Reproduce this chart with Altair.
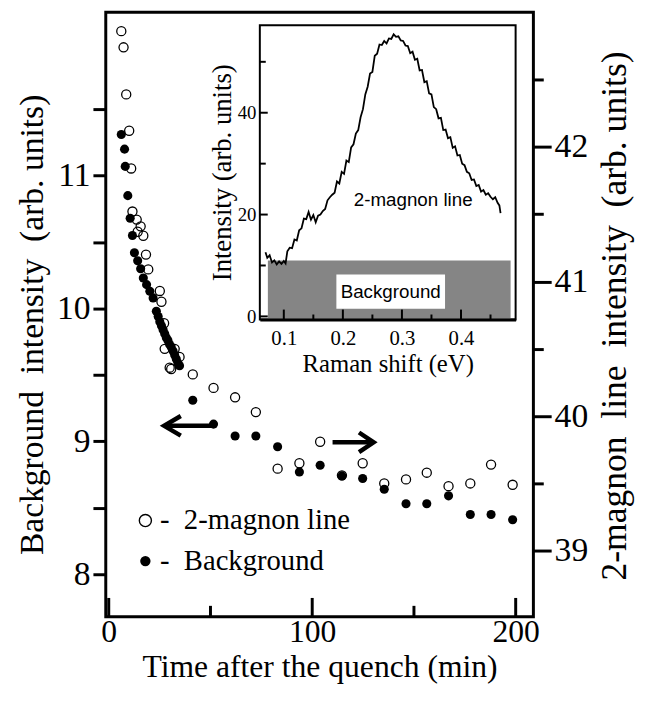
import altair as alt
import pandas as pd

# ---------------- data ----------------
# Background intensity (filled circles, left axis)
bg_t = [6.17, 7.77, 8.11, 9.37, 10.53, 11.65, 12.62, 14.22, 15.68, 16.99, 18.6, 20.2, 21.8,
        23.4, 24.3, 25.1, 25.9, 26.7, 27.5, 28.3, 29.1, 29.9, 30.7, 31.6, 32.4, 33.2, 34.0, 34.8,
        41.3, 51.5, 62.1, 72.3, 83.0, 93.7, 103.9, 114.6, 124.8, 135.4, 146.1, 156.3, 167.0,
        177.7, 187.9, 198.5]
bg_v = [11.31, 11.20, 11.07, 10.85, 10.68, 10.55, 10.42, 10.36, 10.30, 10.23, 10.18, 10.13, 10.08,
        9.98, 9.94, 9.90, 9.87, 9.84, 9.81, 9.78, 9.76, 9.73, 9.71, 9.68, 9.65, 9.62, 9.59, 9.57,
        9.31, 9.13, 9.04, 9.04, 8.96, 8.77, 8.82, 8.74, 8.72, 8.64, 8.53, 8.53, 8.59,
        8.45, 8.45, 8.41]

# 2-magnon line intensity (open circles, right axis)
mag_t = [6.17, 7.28, 8.59, 10.05, 11.02, 11.65, 13.74, 14.22, 15.68, 16.99, 18.3, 19.42, 25.1,
         25.9, 27.2, 27.5, 29.95, 30.7, 32.4, 34.8, 41.3, 51.5, 62.1, 72.3, 83.0, 93.7, 103.9,
         114.6, 124.8, 135.4, 146.1, 156.3, 167.0, 177.7, 187.9, 198.5]
mag_v = [42.86, 42.74, 42.39, 42.12, 41.84, 41.52, 41.46, 41.37, 41.41, 41.34, 41.20, 41.09, 40.93,
         40.85, 40.69, 40.50, 40.36, 40.35, 40.50, 40.44, 40.31, 40.21, 40.14, 40.03, 39.61, 39.65,
         39.81, 39.56, 39.65, 39.50, 39.53, 39.58, 39.48, 39.50, 39.64, 39.49]

# inset spectrum
ram_x = [0.069, 0.072, 0.076, 0.080, 0.084, 0.088, 0.092, 0.096, 0.100, 0.103, 0.106, 0.110,
         0.114, 0.118, 0.122, 0.126, 0.130, 0.134, 0.138, 0.142, 0.146, 0.150, 0.154, 0.158,
         0.162, 0.166, 0.170, 0.174, 0.178, 0.182, 0.186, 0.190, 0.194, 0.198, 0.202, 0.206,
         0.210, 0.214, 0.218, 0.222, 0.226, 0.230, 0.234, 0.238, 0.242, 0.246, 0.250, 0.254,
         0.258, 0.262, 0.266, 0.270, 0.274, 0.278, 0.282, 0.286, 0.290, 0.294, 0.298, 0.302,
         0.306, 0.310, 0.314, 0.318, 0.322, 0.326, 0.330, 0.334, 0.338, 0.342, 0.346, 0.350,
         0.354, 0.358, 0.362, 0.366, 0.370, 0.374, 0.378, 0.382, 0.386, 0.390, 0.394, 0.398,
         0.402, 0.406, 0.410, 0.414, 0.418, 0.422, 0.426, 0.430, 0.434, 0.438, 0.442, 0.446,
         0.450, 0.454, 0.458, 0.462, 0.465, 0.467]
ram_y = [12.6, 11.5, 12.0, 10.6, 11.0, 10.2, 10.8, 10.3, 10.9, 10.4, 12.8, 13.5,
         13.4, 15.1, 14.9, 16.9, 17.3, 19.2, 19.1, 20.5, 19.0, 19.9, 18.5, 19.8,
         20.0, 20.7, 21.1, 22.8, 23.4, 23.9, 24.3, 26.5, 26.1, 28.4, 28.0, 30.6,
         30.3, 33.2, 33.8, 35.9, 36.6, 39.1, 40.7, 43.6, 45.1, 47.7, 48.0, 51.2,
         51.6, 53.4, 53.3, 54.1, 53.6, 54.6, 54.5, 55.4, 54.9, 55.0, 54.2, 54.1,
         53.2, 53.1, 51.7, 52.0, 50.4, 50.6, 48.3, 48.4, 46.0, 46.2, 43.8, 43.6,
         41.1, 40.7, 38.9, 39.0, 36.6, 36.7, 35.0, 35.2, 33.1, 33.4, 31.6, 31.7,
         30.0, 29.7, 28.4, 28.1, 26.8, 26.9, 25.6, 25.8, 24.5, 24.8, 23.9, 24.2,
         23.5, 23.0, 23.4, 22.3, 21.8, 20.3]

# background band of the inset spectrum
band_x = [0.073, 0.484]
band_y = [-0.6, 11.0]
band_label_box_x = [0.189, 0.373]
band_label_box_y = [1.5, 8.25]

# annotations (data units)
arrow_id = ["L", "L", "L", "R", "R", "R"]
arrow_hx = [35.4, 27.2, 35.4, 123.0, 130.2, 123.0]
arrow_hy = [9.191, 9.117, 9.043, 9.067, 8.993, 8.919]
shaft_x1 = [27.8, 110.0]
shaft_x2 = [51.0, 129.5]
shaft_y = [9.117, 8.993]

NB = "\u00a0"
leg_x = [18.0, 18.0]
leg_y = [8.404, 8.099]
leg_tx = [25.2, 25.2]
leg_text = ["-" + NB + " 2-magnon line", "-" + NB + " Background"]

# axis tick values
x_major = [0, 100, 200]
x_minor = [50, 150]
left_ticks = [8, 8.5, 9, 9.5, 10, 10.5, 11, 11.5]
right_ticks = [39, 39.5, 40, 40.5, 41, 41.5, 42, 42.5]
in_x_major = [0.1, 0.2, 0.3, 0.4]
in_x_minor = [0.15, 0.25, 0.35, 0.45]
in_y_major = [0, 20, 40]
in_y_minor = [10, 30, 50]

# ---------------- layout ----------------
W, H = 433, 612
SERIF = "Liberation Serif"
SANS = "Liberation Sans"
IN_L, IN_R, IN_T, IN_B = 156, 415, 13, 311

X_MAIN = alt.Scale(domain=[-1.46, 208.7], nice=False, zero=False)
Y_LEFT = alt.Scale(domain=[7.68, 12.23], nice=False, zero=False)
Y_RIGHT = alt.Scale(domain=[38.51, 43.0], nice=False, zero=False)
X_IN = alt.Scale(domain=[0.0594, 0.4925], range=[IN_L, IN_R], nice=False, zero=False)
Y_IN = alt.Scale(domain=[-0.6, 57.2], range=[IN_B, IN_T], nice=False, zero=False)

df_bg = pd.DataFrame({"t": bg_t, "v": bg_v})
df_mag = pd.DataFrame({"t": mag_t, "v": mag_v})
df_ram = pd.DataFrame({"x": ram_x, "y": ram_y})

filled = alt.Chart(df_bg).mark_point(filled=True, shape="circle", size=85, color="black", opacity=1).encode(
    x=alt.X("t:Q", scale=X_MAIN, axis=alt.Axis(
        values=x_major, format="d", ticks=False, domain=False, grid=False,
        labelFont=SERIF, labelFontSize=32, labelColor="black", labelPadding=0,
        title="Time after the quench (min)", titleFont=SERIF, titleFontSize=32,
        titleFontWeight="normal", titleColor="black", titleY=61, titleBaseline="alphabetic")),
    y=alt.Y("v:Q", scale=Y_LEFT, axis=alt.Axis(
        orient="left", values=left_ticks, domain=False, grid=False,
        labelExpr="datum.value % 1 == 0 ? format(datum.value, 'd') : ''",
        tickSize=13, tickWidth=3, tickColor="black",
        labelFont=SERIF, labelFontSize=34, labelColor="black", labelPadding=3,
        title="Background" + NB + " intensity" + NB + " (arb. units)", titleFont=SERIF, titleFontSize=34,
        titleFontWeight="normal", titleColor="black", titleAngle=270, titleX=-74, titleY=316,
        titleBaseline="middle", titleAlign="center")),
)

opened = alt.Chart(df_mag).mark_point(filled=False, shape="circle", size=85, color="black",
                                      strokeWidth=1.3, opacity=1).encode(
    x=alt.X("t:Q", scale=X_MAIN, axis=None),
    y=alt.Y("v:Q", scale=Y_RIGHT, axis=alt.Axis(
        orient="right", values=right_ticks, domain=False, grid=False,
        labelExpr="datum.value % 1 == 0 ? format(datum.value, 'd') : ''",
        tickSize={"condition": {"test": "datum.value % 1 == 0", "value": 18}, "value": 10},
        tickWidth=3, tickColor="black",
        labelFont=SERIF, labelFontSize=34, labelColor="black", labelPadding=3,
        title="2-magnon" + NB + " line" + NB + " intensity" + NB + " (arb. units)", titleFont=SERIF,
        titleFontSize=36, titleFontWeight="normal", titleColor="black", titleAngle=270, titleX=82,
        titleY=307, titleBaseline="middle", titleAlign="center")),
)

# inward ticks of the main time axis
xt_major = alt.Chart(pd.DataFrame({"t": x_major})).mark_rule(color="black", strokeWidth=3).encode(
    x=alt.X("t:Q", scale=X_MAIN, axis=None), y=alt.value(H), y2=alt.value(H - 19))
xt_minor = alt.Chart(pd.DataFrame({"t": x_minor})).mark_rule(color="black", strokeWidth=3).encode(
    x=alt.X("t:Q", scale=X_MAIN, axis=None), y=alt.value(H), y2=alt.value(H - 11))

# arrows
shafts = alt.Chart(pd.DataFrame({"x1": shaft_x1, "x2": shaft_x2, "y": shaft_y})).mark_rule(
    color="black", strokeWidth=4.5).encode(
    x=alt.X("x1:Q", scale=X_MAIN, axis=None), x2="x2:Q",
    y=alt.Y("y:Q", scale=Y_LEFT, axis=None))
heads = alt.Chart(pd.DataFrame({"id": arrow_id, "k": [0, 1, 2] * 2, "x": arrow_hx, "y": arrow_hy})).mark_line(
    color="black", strokeWidth=4.5, strokeJoin="miter").encode(
    x=alt.X("x:Q", scale=X_MAIN, axis=None), y=alt.Y("y:Q", scale=Y_LEFT, axis=None),
    detail="id:N", order="k:Q")

# legend
df_leg = pd.DataFrame({"x": leg_x, "y": leg_y, "tx": leg_tx, "label": leg_text})
leg_open = alt.Chart(df_leg.iloc[[0]]).mark_point(filled=False, shape="circle", size=150, color="black",
                                                  strokeWidth=1.4, opacity=1).encode(
    x=alt.X("x:Q", scale=X_MAIN, axis=None), y=alt.Y("y:Q", scale=Y_LEFT, axis=None))
leg_fill = alt.Chart(df_leg.iloc[[1]]).mark_point(filled=True, shape="circle", size=110, color="black",
                                                  opacity=1).encode(
    x=alt.X("x:Q", scale=X_MAIN, axis=None), y=alt.Y("y:Q", scale=Y_LEFT, axis=None))
leg_txt = alt.Chart(df_leg).mark_text(align="left", baseline="middle", font=SERIF, fontSize=29,
                                      color="black").encode(
    x=alt.X("tx:Q", scale=X_MAIN, axis=None), y=alt.Y("y:Q", scale=Y_LEFT, axis=None), text="label:N")

# ---------------- inset ----------------
frame = alt.Chart(pd.DataFrame({"x1": [0.0594], "x2": [0.4925], "y1": [-0.6], "y2": [57.2]})).mark_rect(
    fill="white", stroke="black", strokeWidth=2).encode(
    x=alt.X("x1:Q", scale=X_IN, axis=None), x2="x2:Q",
    y=alt.Y("y1:Q", scale=Y_IN, axis=None), y2="y2:Q")
band = alt.Chart(pd.DataFrame({"x1": [band_x[0]], "x2": [band_x[1]], "y1": [band_y[0]], "y2": [band_y[1]]})).mark_rect(
    fill="#858585").encode(
    x=alt.X("x1:Q", scale=X_IN, axis=None), x2="x2:Q",
    y=alt.Y("y1:Q", scale=Y_IN, axis=None), y2="y2:Q")
box = alt.Chart(pd.DataFrame({"x1": [band_label_box_x[0]], "x2": [band_label_box_x[1]],
                              "y1": [band_label_box_y[0]], "y2": [band_label_box_y[1]]})).mark_rect(
    fill="white").encode(
    x=alt.X("x1:Q", scale=X_IN, axis=None), x2="x2:Q",
    y=alt.Y("y1:Q", scale=Y_IN, axis=None), y2="y2:Q")
inset_labels = alt.Chart(pd.DataFrame({"x": [0.281, 0.319], "y": [4.87, 22.8],
                                       "label": ["Background", "2-magnon line"]})).mark_text(
    font=SANS, fontSize=19, color="black", baseline="middle", align="center").encode(
    x=alt.X("x:Q", scale=X_IN, axis=None), y=alt.Y("y:Q", scale=Y_IN, axis=None), text="label:N")

spectrum = alt.Chart(df_ram).mark_line(color="black", strokeWidth=1.8).encode(
    x=alt.X("x:Q", scale=X_IN, axis=alt.Axis(
        orient="bottom", offset=-(H - IN_B), values=in_x_major, format=".1f", ticks=False,
        domain=True, domainWidth=3, domainColor="black", grid=False, zindex=2,
        labelFont=SERIF, labelFontSize=21, labelColor="black", labelPadding=8,
        title="Raman shift (eV)", titleFont=SERIF, titleFontSize=25, titleFontWeight="normal",
        titleColor="black", titlePadding=4)),
    y=alt.Y("y:Q", scale=Y_IN, axis=alt.Axis(
        orient="left", offset=-IN_L, values=in_y_major, ticks=False, domain=False, grid=False,
        zindex=2, labelFont=SERIF, labelFontSize=19, labelColor="black", labelPadding=4,
        title="Intensity (arb. units)", titleFont=SERIF, titleFontSize=27, titleFontWeight="normal",
        titleColor="black", titlePadding=1)),
)

ixt_major = alt.Chart(pd.DataFrame({"x": in_x_major})).mark_rule(color="black", strokeWidth=2).encode(
    x=alt.X("x:Q", scale=X_IN, axis=None), y=alt.value(IN_B), y2=alt.value(IN_B - 10))
ixt_minor = alt.Chart(pd.DataFrame({"x": in_x_minor})).mark_rule(color="black", strokeWidth=2).encode(
    x=alt.X("x:Q", scale=X_IN, axis=None), y=alt.value(IN_B), y2=alt.value(IN_B - 5))
iyt_major = alt.Chart(pd.DataFrame({"y": in_y_major})).mark_rule(color="black", strokeWidth=2).encode(
    y=alt.Y("y:Q", scale=Y_IN, axis=None), x=alt.value(IN_L), x2=alt.value(IN_L + 8))
iyt_minor = alt.Chart(pd.DataFrame({"y": in_y_minor})).mark_rule(color="black", strokeWidth=2).encode(
    y=alt.Y("y:Q", scale=Y_IN, axis=None), x=alt.value(IN_L), x2=alt.value(IN_L + 6))

chart = alt.layer(
    filled, opened, xt_major, xt_minor, shafts, heads, leg_open, leg_fill, leg_txt,
    frame, band, box, inset_labels, spectrum, ixt_major, ixt_minor, iyt_major, iyt_minor,
).resolve_scale(x="independent", y="independent").properties(
    width=W, height=H,
    autosize=alt.AutoSizeParams(type="none"),
    padding={"left": 99, "top": 0, "right": 112, "bottom": 83},
).configure(background="white").configure_view(stroke="black", strokeWidth=3)

chart.save("out.html", embed_options={"renderer": "svg", "actions": False})
